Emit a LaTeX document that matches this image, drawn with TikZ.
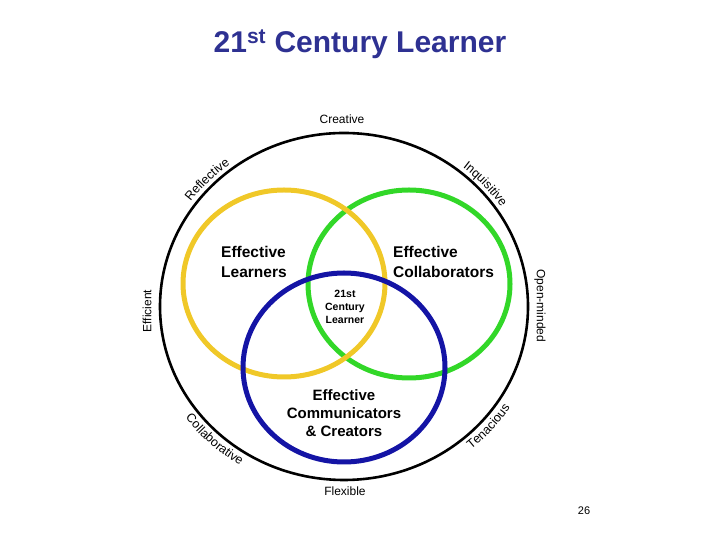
\documentclass[tikz,border=0pt]{standalone}
\usepackage{fontspec}
\setmainfont{Liberation Sans}
\usetikzlibrary{decorations.text}
\definecolor{titleblue}{RGB}{46,49,146}
\definecolor{ringyellow}{RGB}{240,200,40}
\definecolor{ringgreen}{RGB}{50,215,40}
\definecolor{ringblue}{RGB}{20,20,165}
\newcommand{\lblfont}{\fontsize{12}{14}\selectfont}
\newcommand{\arcfont}{\fontsize{12.5}{14}\selectfont}
\tikzset{
  ring/.style={line width=5pt},
  outerring/.style={line width=2.6pt, black},
  lbl/.style={font=\lblfont, inner sep=0pt},
  bigbold/.style={font=\fontsize{15.5}{20}\selectfont\bfseries, inner sep=0pt, align=left, anchor=north west},
  arctext/.style={decorate, decoration={text along path, text={|\arcfont|#1}, text align=center}}
}
\begin{document}
\begin{tikzpicture}[x=1pt,y=1pt]
\useasboundingbox (0,0) rectangle (720,540);
% title
\node[font=\fontsize{30}{34}\selectfont\bfseries, text=titleblue, anchor=base, inner sep=0pt] (title) at (360,487) {21\textsuperscript{st} Century Learner};
% outer circle
\coordinate (oc) at (344,233.5);
\draw[outerring] (oc) ellipse [x radius=184, y radius=173.5];
% rings
\draw[ring, ringgreen] (409,256) ellipse [x radius=101, y radius=94];
\draw[ring, ringyellow] (284,256.5) ellipse [x radius=101, y radius=93.5];
\draw[ring, ringblue] (344,172.5) ellipse [x radius=101, y radius=94.5];
% ring labels
\node[bigbold] (learners) at (221,293.5) {Effective\\Learners};
\node[bigbold] (collab) at (393,293.5) {Effective\\Collaborators};
\node[font=\fontsize{15}{18}\selectfont\bfseries, inner sep=0pt, align=center, anchor=north] (comm) at (344,151) {Effective\\Communicators\\\& Creators};
\node[font=\fontsize{10.5}{13}\selectfont\bfseries, inner sep=0pt, align=center, anchor=north] (centre) at (345,250) {21st\\Century\\Learner};
% straight outer labels
\node[lbl, anchor=base] (creative) at (342,416) {Creative};
\node[lbl, anchor=base] (flexible) at (345,44) {Flexible};
\node[lbl, rotate=90] (efficient) at (147,229) {Efficient};
\node[lbl, rotate=-90] (openminded) at (540,234) {Open-minded};
% curved outer labels
\path[arctext=Reflective] (oc) ++(167:189 and 178.5) arc[start angle=167, end angle=105, x radius=189, y radius=178.5];
\path[arctext=Inquisitive] (oc) ++(72:189 and 178.5) arc[start angle=72, end angle=12, x radius=189, y radius=178.5];
\path[arctext=Collaborative] (oc) ++(194:197.5 and 187) arc[start angle=194, end angle=260, x radius=197.5, y radius=187];
\path[arctext=Tenacious] (oc) ++(289:197.5 and 187) arc[start angle=289, end angle=349, x radius=197.5, y radius=187];
% page number
\node[font=\fontsize{11}{12}\selectfont, anchor=base, inner sep=0pt] (page) at (584,25) {26};
\end{tikzpicture}
\end{document}
